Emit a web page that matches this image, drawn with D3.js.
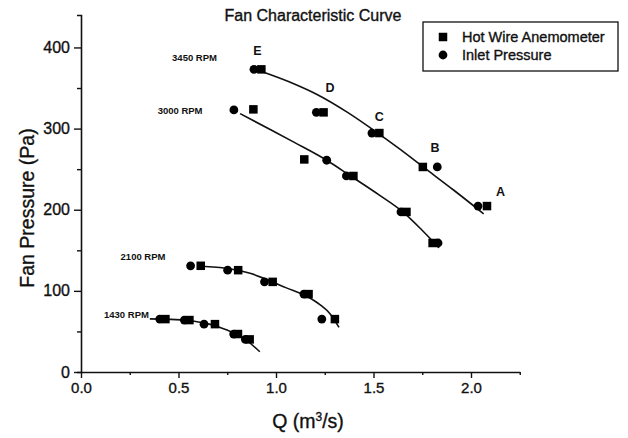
<!DOCTYPE html>
<html><head><meta charset="utf-8">
<script src="https://cdn.jsdelivr.net/npm/d3@7"></script>
<style>
html,body{margin:0;padding:0;background:#fff;}
svg{display:block;font-family:"Liberation Sans",Arial,sans-serif;}
</style></head>
<body>
<svg id="chart" width="628" height="438"></svg>
<script>
// ---- data ----
const xMajorTicks = [0, 0.5, 1.0, 1.5, 2.0];
const xMinorTicks = [0.25, 0.75, 1.25, 1.75, 2.25];
const yMajorTicks = [0, 100, 200, 300, 400];
const yMinorTicks = [50, 150, 250, 350];

const speedLabels = ["3450 RPM", "3000 RPM", "2100 RPM", "1430 RPM"];
const speedLabelQ = [0.467, 0.393, 0.203, 0.118];
const speedLabelP = [388, 321.6, 141.9, 70.2];

const pointLetters = ["E", "D", "C", "B", "A"];
const letterQ = [0.905, 1.277, 1.530, 1.815, 2.152];
const letterP = [396.3, 351, 315, 276.6, 221.9];

// Hot Wire Anemometer (squares)
const q3450HW = [0.925, 1.244, 1.530, 1.753, 2.082];
const p3450HW = [373, 320, 294.5, 252.7, 204.5];
const q3000HW = [0.884, 1.145, 1.397, 1.669, 1.803];
const p3000HW = [323.7, 262, 241.6, 197.3, 159];
const q2100HW = [0.614, 0.806, 0.983, 1.167, 1.302];
const p2100HW = [130.9, 125.5, 111.1, 96, 65.2];
const q1430HW = [0.433, 0.556, 0.687, 0.805, 0.865];
const p1430HW = [65.2, 64, 59, 46.8, 40.2];

// Inlet Pressure (circles)
const q3450IP = [0.887, 1.207, 1.492, 1.827, 2.036];
const p3450IP = [373, 320, 294.5, 252.7, 204.5];
const q3000IP = [0.784, 1.260, 1.361, 1.641, 1.831];
const p3000IP = [323, 261, 241.6, 197.3, 159];
const q2100IP = [0.562, 0.752, 0.941, 1.143, 1.235];
const p2100IP = [130.9, 125.5, 111.1, 96, 65.2];
const q1430IP = [0.404, 0.530, 0.631, 0.783, 0.843];
const p1430IP = [65.2, 64, 59, 46.8, 40.2];

// fitted characteristic curves
const fitQ3450 = [0.930, 1.094, 1.203, 1.367, 1.513, 1.639, 1.753, 1.912, 2.065];
const fitP3450 = [370, 355, 343, 320, 296, 274, 253, 224, 195];
const fitQ3000 = [0.816, 0.985, 1.094, 1.260, 1.380, 1.530, 1.652, 1.748, 1.836];
const fitP3000 = [318.4, 297, 283, 261, 242, 218, 197, 175, 153];
const fitQ2100 = [0.636, 0.767, 0.876, 0.963, 1.050, 1.160, 1.225, 1.280, 1.323];
const fitP2100 = [130, 127, 121, 113, 104, 93, 83, 71, 55];
const fitQ1430 = [0.353, 0.440, 0.549, 0.658, 0.745, 0.800, 0.854, 0.917];
const fitP1430 = [65.5, 65, 63.5, 59, 52, 46.5, 38, 25];

const legendLabels = ["Hot Wire Anemometer", "Inlet Pressure"];

// ---- chart ----
const svg = d3.select("#chart");
const x = d3.scaleLinear().domain([0, 2.25]).range([81, 519.75]);
const y = d3.scaleLinear().domain([0, 440]).range([372, 15]);

const zip = (a, b) => a.map((v, i) => [v, b[i]]);
const ink = "#111";
const heavy = sel => sel.attr("stroke", ink).attr("stroke-width", 0.35);

// axes
const gx = svg.append("g").attr("transform", `translate(0,${y(0)})`);
gx.call(d3.axisBottom(x).tickValues(xMinorTicks).tickSize(3).tickSizeOuter(0).tickFormat(""));
const gx2 = svg.append("g").attr("transform", `translate(0,${y(0)})`);
gx2.call(d3.axisBottom(x).tickValues(xMajorTicks).tickSize(6).tickPadding(4).tickFormat(d3.format(".1f")));
gx2.select(".domain").remove();

const gy = svg.append("g").attr("transform", `translate(${x(0)},0)`);
gy.call(d3.axisLeft(y).tickValues(yMinorTicks).tickSize(4).tickSizeOuter(4).tickFormat(""));
const gy2 = svg.append("g").attr("transform", `translate(${x(0)},0)`);
gy2.call(d3.axisLeft(y).tickValues(yMajorTicks).tickSize(7).tickPadding(4).tickFormat(d3.format("d")));
gy2.select(".domain").remove();

svg.selectAll(".domain").attr("stroke", ink).attr("stroke-width", 1.6);
svg.selectAll(".tick line").attr("stroke", ink).attr("stroke-width", 1.4);
gx2.selectAll(".tick text").attr("font-size", 15).attr("fill", ink).attr("font-family", "Liberation Sans, Arial, sans-serif").call(heavy);
gy2.selectAll(".tick text").attr("font-size", 16).attr("fill", ink).attr("font-family", "Liberation Sans, Arial, sans-serif").call(heavy);

// curves
const line = d3.line().x(d => x(d[0])).y(d => y(d[1])).curve(d3.curveMonotoneX);
[[fitQ3450, fitP3450], [fitQ3000, fitP3000], [fitQ2100, fitP2100], [fitQ1430, fitP1430]].forEach(([q, p]) => {
  svg.append("path").datum(zip(q, p)).attr("d", line)
    .attr("fill", "none").attr("stroke", ink).attr("stroke-width", 1.6);
});

// markers
const sq = 8.5, rc = 4.4;
const hw = [].concat(zip(q3450HW, p3450HW), zip(q3000HW, p3000HW), zip(q2100HW, p2100HW), zip(q1430HW, p1430HW));
const ip = [].concat(zip(q3450IP, p3450IP), zip(q3000IP, p3000IP), zip(q2100IP, p2100IP), zip(q1430IP, p1430IP));
svg.append("g").selectAll("circle").data(ip).join("circle")
  .attr("cx", d => x(d[0])).attr("cy", d => y(d[1])).attr("r", rc).attr("fill", "#000");
svg.append("g").selectAll("rect").data(hw).join("rect")
  .attr("x", d => x(d[0]) - sq / 2).attr("y", d => y(d[1]) - sq / 2)
  .attr("width", sq).attr("height", sq).attr("fill", "#000");

// speed labels
svg.append("g").selectAll("text").data(speedLabels).join("text")
  .attr("x", (d, i) => x(speedLabelQ[i])).attr("y", (d, i) => y(speedLabelP[i]))
  .attr("dy", "0.35em").attr("font-size", 9.5).attr("font-weight", "bold")
  .attr("fill", ink).text(d => d);

// point letters
svg.append("g").selectAll("text").data(pointLetters).join("text")
  .attr("x", (d, i) => x(letterQ[i])).attr("y", (d, i) => y(letterP[i]))
  .attr("dy", "0.35em").attr("text-anchor", "middle").attr("font-size", 12.5).attr("font-weight", "bold")
  .attr("fill", ink).text(d => d);

// title
svg.append("text").attr("x", 313).attr("y", 21).attr("text-anchor", "middle")
  .attr("font-size", 16).attr("fill", ink).text("Fan Characteristic Curve").call(heavy);

// axis titles
svg.append("text").attr("transform", "translate(34,208) rotate(-90)").attr("text-anchor", "middle")
  .attr("font-size", 19.5).attr("fill", ink).text("Fan Pressure (Pa)").call(heavy);
const xt = svg.append("text").attr("x", 308).attr("y", 428).attr("text-anchor", "middle")
  .attr("font-size", 19.5).attr("fill", ink).call(heavy);
xt.append("tspan").text("Q (m");
xt.append("tspan").attr("font-size", 12).attr("dy", -7).text("3");
xt.append("tspan").attr("dy", 7).text("/s)");

// legend
const lg = svg.append("g");
lg.append("rect").attr("x", 423).attr("y", 22).attr("width", 195).attr("height", 49)
  .attr("fill", "#fff").attr("stroke", ink).attr("stroke-width", 1.3);
lg.append("rect").attr("x", 443 - sq / 2).attr("y", 37 - sq / 2).attr("width", sq).attr("height", sq).attr("fill", "#000");
lg.append("circle").attr("cx", 443).attr("cy", 55).attr("r", rc).attr("fill", "#000");
lg.selectAll("text.lab").data(legendLabels).join("text").attr("class", "lab")
  .attr("x", 462).attr("y", (d, i) => 37 + i * 18).attr("dy", "0.35em")
  .attr("font-size", 14.5).attr("fill", ink).text(d => d).call(heavy);
</script>
</body></html>
